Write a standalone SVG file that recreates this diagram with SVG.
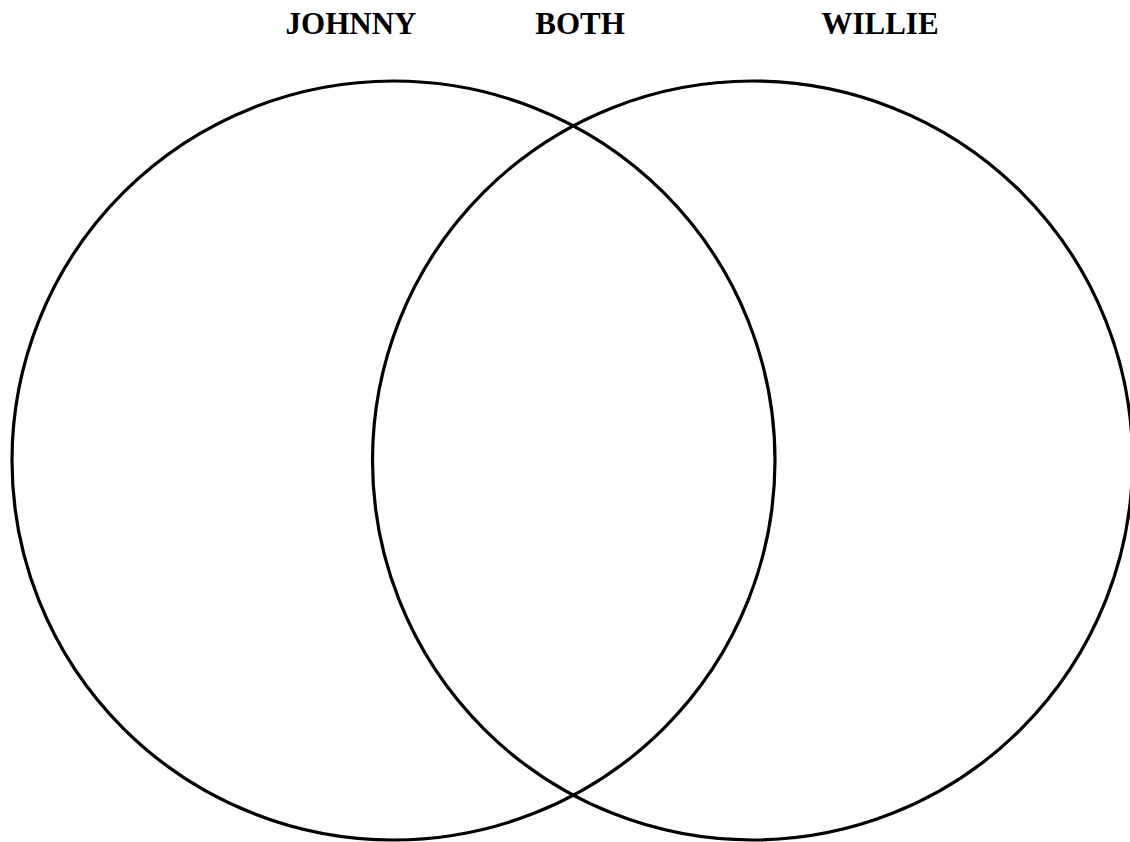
<svg xmlns="http://www.w3.org/2000/svg" width="1130" height="842" viewBox="0 0 1130 842">
<style>
.c{fill:none;stroke:#000;stroke-width:3.2}
.t{font-family:"Liberation Serif","Times New Roman",serif;font-weight:bold;font-size:31px;fill:#000;text-anchor:middle}
</style>
<rect width="1130" height="842" fill="#fff"/>
<g id="johnny"><ellipse class="c" cx="393.5" cy="460.5" rx="381.5" ry="379.5"/></g>
<g id="willie"><ellipse class="c" cx="752.5" cy="460.5" rx="380" ry="379.5"/></g>
<g id="labels">
<text class="t" x="351" y="33.5">JOHNNY</text>
<text class="t" x="580" y="33.5">BOTH</text>
<text class="t" x="880" y="33.5">WILLIE</text>
</g>
<g id="connectors"/>
</svg>
